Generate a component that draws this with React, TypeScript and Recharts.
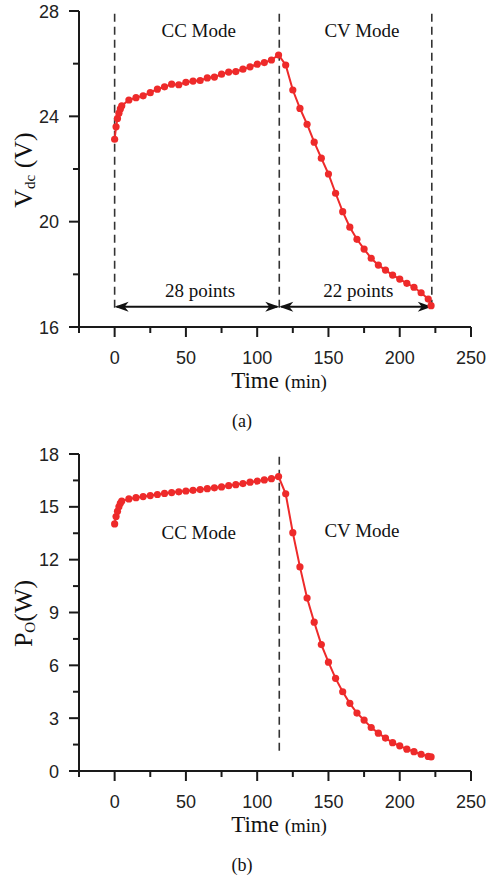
import { LineChart, Line, XAxis, YAxis, ReferenceLine, ReferenceDot } from "recharts"

// sample times (min): dense start, then every 5 min, last sample at 222
const timeMin = [
  0, 1, 2, 3, 4, 5, 10, 15, 20, 25, 30, 35, 40, 45, 50, 55, 60, 65, 70, 75, 80, 85, 90, 95, 100, 105, 110, 115,
  120, 125, 130, 135, 140, 145, 150, 155, 160, 165, 170, 175, 180, 185, 190, 195, 200, 205, 210, 215, 220, 222,
]

const vdc = [
  23.13, 23.6, 23.92, 24.12, 24.28, 24.4, 24.62, 24.71, 24.78, 24.9, 25.03, 25.12, 25.22, 25.2, 25.29, 25.34, 25.36,
  25.46, 25.49, 25.6, 25.68, 25.7, 25.79, 25.88, 25.98, 26.04, 26.14, 26.33,
  25.95, 25.0, 24.3, 23.7, 23.02, 22.41, 21.81, 21.08, 20.38, 19.79, 19.33, 18.96, 18.61, 18.35, 18.16, 17.97, 17.82,
  17.66, 17.51, 17.3, 17.06, 16.81,
]

const po = [
  14.03, 14.45, 14.75, 15.0, 15.2, 15.33, 15.45, 15.52, 15.58, 15.64, 15.7, 15.76, 15.81, 15.85, 15.9, 15.94, 15.98,
  16.03, 16.08, 16.13, 16.2, 16.26, 16.32, 16.4, 16.46, 16.53, 16.6, 16.72,
  15.74, 13.53, 11.59, 9.82, 8.45, 7.18, 6.18, 5.26, 4.5, 3.84, 3.29, 2.89, 2.47, 2.15, 1.87, 1.61, 1.43, 1.24, 1.1,
  0.95, 0.83, 0.8,
]

const xTicks = [-25, 0, 25, 50, 75, 100, 125, 150, 175, 200, 225, 250]
const vdcTicks = [16, 18, 20, 22, 24, 26, 28]
const poTicks = [0, 1.5, 3, 4.5, 6, 7.5, 9, 10.5, 12, 13.5, 15, 16.5, 18]

const ccEnd = 115.5
const cvEnd = 222.5

const RED = "#ee2a2a"
const AXIS = "#1a1a1a"
const SANS = "'Liberation Sans', Arial, sans-serif"
const SERIF = "'Liberation Serif', 'Times New Roman', serif"

const vdcData = timeMin.map((t, i) => ({ t, v: vdc[i] }))
const poData = timeMin.map((t, i) => ({ t, v: po[i] }))

function XTick(props: any) {
  const { x, y, payload } = props
  const major = payload.value % 50 === 0
  return (
    <g>
      <line x1={x} x2={x} y1={y} y2={y + (major ? 10 : 6)} stroke={AXIS} strokeWidth={2} />
      {major && (
        <text x={x} y={y + 37} textAnchor="middle" fontFamily={SANS} fontSize={18} fill="#222">
          {payload.value}
        </text>
      )}
    </g>
  )
}

function makeYTick(labelStep: number) {
  return function YTick(props: any) {
    const { x, y, payload } = props
    const major = Math.abs(payload.value % labelStep) < 1e-6
    return (
      <g>
        <line x1={x - (major ? 10 : 6)} x2={x} y1={y} y2={y} stroke={AXIS} strokeWidth={2} />
        {major && (
          <text x={x - 20} y={y + 6.5} textAnchor="end" fontFamily={SANS} fontSize={18} fill="#222">
            {payload.value}
          </text>
        )}
      </g>
    )
  }
}

function ArrowShape(props: any) {
  const { x1, y1, x2, y2 } = props
  const len = 14
  const hw = 5
  const notch = 4
  return (
    <g>
      <line x1={x1 + 2} y1={y1} x2={x2 - 2} y2={y2} stroke="#111" strokeWidth={2} />
      <path
        d={`M${x1},${y1} L${x1 + len},${y1 - hw} L${x1 + len - notch},${y1} L${x1 + len},${y1 + hw} Z`}
        fill="#111"
      />
      <path
        d={`M${x2},${y2} L${x2 - len},${y2 - hw} L${x2 - len + notch},${y2} L${x2 - len},${y2 + hw} Z`}
        fill="#111"
      />
    </g>
  )
}

function note(text: string) {
  return function NoteShape(props: any) {
    return (
      <text x={props.cx} y={props.cy} textAnchor="middle" fontFamily={SERIF} fontSize={19} fill="#111">
        {text}
      </text>
    )
  }
}

function TimeTitle(caption: string) {
  return function Title(props: any) {
    const vb = props.viewBox
    const cx = vb.x + vb.width / 2 + 4
    return (
      <g>
        <text x={cx} y={vb.y + 61} textAnchor="middle" fontFamily={SERIF} fill="#111">
          <tspan fontSize={23}>Time </tspan>
          <tspan fontSize={19}>(min)</tspan>
        </text>
        <text x={vb.x + vb.width / 2 - 33} y={vb.y + 100} textAnchor="middle" fontFamily={SERIF} fontSize={18} fill="#111">
          {caption}
        </text>
      </g>
    )
  }
}

function YTitle(main: string, sub: string, unit: string) {
  return function Title(props: any) {
    const vb = props.viewBox
    const x = 32
    const y = vb.y + vb.height / 2 + 1
    return (
      <text x={x} y={y} textAnchor="middle" fontFamily={SERIF} fill="#111" transform={`rotate(-90, ${x}, ${y})`}>
        <tspan fontSize={26}>{main}</tspan>
        <tspan fontSize={15} dy={3}>{sub}</tspan>
        <tspan fontSize={26} dy={-3}>{unit}</tspan>
      </text>
    )
  }
}

const dashed = { stroke: "#333", strokeWidth: 1.6, strokeDasharray: "8 5" }

export default function App() {
  return (
    <div style={{ position: "fixed", left: 0, top: 0, width: 489, height: 879, background: "#fff" }}>
      <LineChart width={489} height={440} data={vdcData} margin={{ top: 11, right: 18, left: 0, bottom: 53 }}>
        <XAxis
          type="number"
          dataKey="t"
          domain={[-25, 250]}
          ticks={xTicks}
          interval={0}
          tickSize={0}
          tickMargin={0}
          tickLine={false}
          tick={XTick}
          height={60}
          axisLine={{ stroke: AXIS, strokeWidth: 2 }}
          label={{ content: TimeTitle("(a)") } as any}
        />
        <YAxis
          type="number"
          domain={[16, 28]}
          ticks={vdcTicks}
          interval={0}
          tickSize={0}
          tickMargin={0}
          tickLine={false}
          tick={makeYTick(4)}
          width={79}
          axisLine={{ stroke: AXIS, strokeWidth: 2 }}
          label={{ content: YTitle("V", "dc", " (V)") } as any}
        />
        <ReferenceLine segment={[{ x: 0, y: 27.9 }, { x: 0, y: 16.57 }]} {...dashed} />
        <ReferenceLine segment={[{ x: ccEnd, y: 27.9 }, { x: ccEnd, y: 16.57 }]} {...dashed} />
        <ReferenceLine segment={[{ x: cvEnd, y: 27.9 }, { x: cvEnd, y: 16.57 }]} {...dashed} />
        <ReferenceLine segment={[{ x: 0, y: 16.77 }, { x: ccEnd, y: 16.77 }]} shape={ArrowShape} />
        <ReferenceLine segment={[{ x: ccEnd, y: 16.77 }, { x: cvEnd, y: 16.77 }]} shape={ArrowShape} />
        <ReferenceDot x={59} y={27.0} r={0} shape={note("CC Mode")} />
        <ReferenceDot x={173.5} y={27.0} r={0} shape={note("CV Mode")} />
        <ReferenceDot x={60} y={17.15} r={0} shape={note("28 points")} />
        <ReferenceDot x={171} y={17.15} r={0} shape={note("22 points")} />
        <Line
          type="linear"
          dataKey="v"
          stroke={RED}
          strokeWidth={2}
          dot={{ r: 3.6, fill: RED, stroke: RED, strokeWidth: 0 }}
          isAnimationActive={false}
        />
      </LineChart>
      <LineChart width={489} height={439} data={poData} margin={{ top: 14, right: 18, left: 0, bottom: 48 }}>
        <XAxis
          type="number"
          dataKey="t"
          domain={[-25, 250]}
          ticks={xTicks}
          interval={0}
          tickSize={0}
          tickMargin={0}
          tickLine={false}
          tick={XTick}
          height={60}
          axisLine={{ stroke: AXIS, strokeWidth: 2 }}
          label={{ content: TimeTitle("(b)") } as any}
        />
        <YAxis
          type="number"
          domain={[0, 18]}
          ticks={poTicks}
          interval={0}
          tickSize={0}
          tickMargin={0}
          tickLine={false}
          tick={makeYTick(3)}
          width={79}
          axisLine={{ stroke: AXIS, strokeWidth: 2 }}
          label={{ content: YTitle("P", "O", "(W)") } as any}
        />
        <ReferenceLine segment={[{ x: ccEnd, y: 17.85 }, { x: ccEnd, y: 0.97 }]} {...dashed} />
        <ReferenceDot x={59} y={13.17} r={0} shape={note("CC Mode")} />
        <ReferenceDot x={173.5} y={13.3} r={0} shape={note("CV Mode")} />
        <Line
          type="linear"
          dataKey="v"
          stroke={RED}
          strokeWidth={2}
          dot={{ r: 3.6, fill: RED, stroke: RED, strokeWidth: 0 }}
          isAnimationActive={false}
        />
      </LineChart>
    </div>
  )
}
